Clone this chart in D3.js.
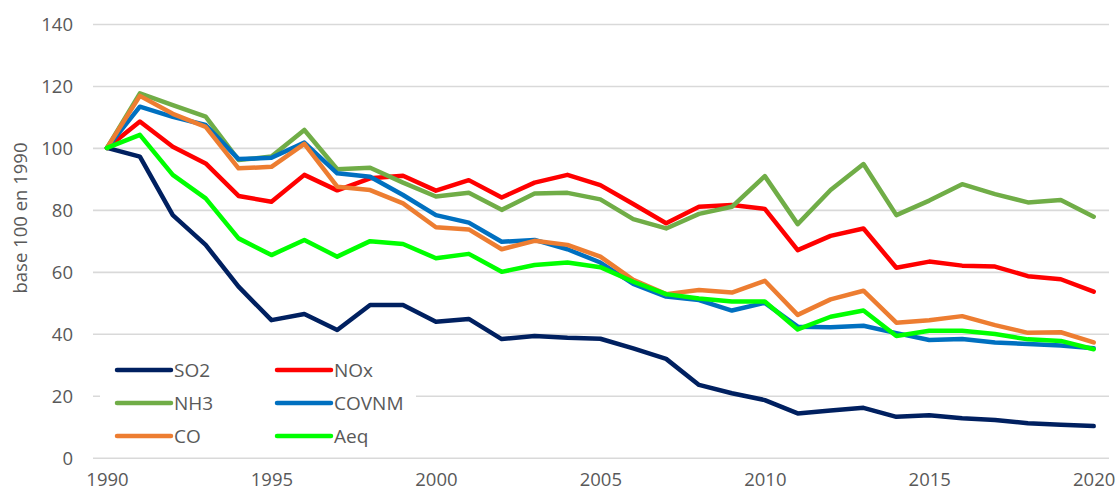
<!DOCTYPE html>
<html>
<head>
<meta charset="utf-8">
<script src="https://cdn.jsdelivr.net/npm/d3@7"></script>
<style>
  html, body { margin: 0; padding: 0; background: #fff; }
  svg { display: block; font-family: "Open Sans", "Noto Sans", sans-serif; }
</style>
</head>
<body>
<svg id="chart" width="1116" height="493"></svg>
<script>
// Emissions indexed to 1990 = 100
const years = d3.range(1990, 2021);
const so2   = [100, 97.2, 78.3, 68.7, 55.2, 44.4, 46.4, 41.2, 49.3, 49.3, 43.9, 44.8, 38.3, 39.3, 38.7, 38.4, 35.3, 31.9, 23.5, 20.8, 18.6, 14.3, 15.2, 16.1, 13.2, 13.7, 12.7, 12.2, 11.1, 10.6, 10.2];
const nox   = [100, 108.5, 100.4, 95, 84.5, 82.6, 91.3, 86.3, 90.2, 91, 86.2, 89.6, 84, 88.8, 91.3, 88, 81.9, 75.7, 81, 81.6, 80.3, 67, 71.6, 74, 61.3, 63.3, 62, 61.7, 58.6, 57.6, 53.6];
const nh3   = [100, 117.6, 113.8, 110.1, 96.1, 97.2, 105.8, 93.1, 93.6, 88.8, 84.3, 85.5, 80, 85.3, 85.5, 83.4, 77, 74, 78.7, 81, 90.9, 75.4, 86.4, 94.8, 78.3, 83, 88.3, 85.1, 82.4, 83.2, 77.8];
const covnm = [100, 113.3, 110, 107.4, 96.4, 96.8, 101.7, 91.8, 90.7, 84.8, 78.3, 75.9, 69.7, 70.3, 67.3, 63, 56.1, 52, 50.9, 47.5, 50, 42.3, 42.1, 42.6, 40.2, 38, 38.3, 37.2, 36.7, 36.2, 35.3];
const co    = [100, 116.8, 111, 106.8, 93.4, 93.9, 101.3, 87.5, 86.4, 82.1, 74.4, 73.7, 67.3, 70, 68.7, 64.9, 57.4, 52.8, 54.1, 53.3, 57.1, 46.1, 51.1, 53.9, 43.6, 44.4, 45.7, 42.8, 40.3, 40.5, 37.2];
const aeq   = [100, 104.2, 91.3, 83.7, 70.8, 65.4, 70.3, 64.9, 69.9, 69, 64.4, 65.8, 60, 62.2, 63, 61.5, 56.8, 52.8, 51.4, 50.4, 50.4, 41.4, 45.5, 47.5, 39.3, 41, 41, 39.9, 38.2, 37.7, 35];

const seriesNames  = ["SO2", "NOx", "NH3", "COVNM", "CO", "Aeq"];
const seriesValues = [so2, nox, nh3, covnm, co, aeq];
const seriesColors = ["#002060", "#ff0000", "#70ad47", "#0070c0", "#ed7d31", "#00ff00"];

const yTicks = [0, 20, 40, 60, 80, 100, 120, 140];
const xTicks = [1990, 1995, 2000, 2005, 2010, 2015, 2020];
const yTitle = "base 100 en 1990";

const svg = d3.select("#chart");
const textColor = "#595959";
const gridColor = "#d9d9d9";

const x = d3.scaleLinear().domain([1990, 2020]).range([107, 1093.7]);
const y = d3.scaleLinear().domain([0, 140]).range([457.7, 24]);
const gridLeft = 93, gridRight = 1109;

// horizontal gridlines + value labels
const yAxis = d3.axisLeft(y).tickValues(yTicks).tickSize(0).tickPadding(0);
const gy = svg.append("g").attr("transform", `translate(${gridLeft},0)`).call(yAxis);
gy.select(".domain").remove();
gy.selectAll(".tick line")
  .attr("x1", 0).attr("x2", gridRight - gridLeft)
  .attr("stroke", gridColor).attr("stroke-width", 1.6);
gy.selectAll(".tick text")
  .attr("x", -20).attr("dy", "0.36em")
  .attr("fill", textColor).attr("font-size", 18.5)
  .attr("font-family", "Open Sans, sans-serif");

// year labels
const xAxis = d3.axisBottom(x).tickValues(xTicks).tickFormat(d3.format("d")).tickSize(0).tickPadding(0);
const gx = svg.append("g").attr("transform", `translate(0,${y(0)})`).call(xAxis);
gx.select(".domain").remove();
gx.selectAll(".tick text")
  .attr("y", 28).attr("dy", 0)
  .attr("fill", textColor).attr("font-size", 18.5)
  .attr("font-family", "Open Sans, sans-serif");

// axis title
svg.append("text")
  .attr("transform", "translate(27,218) rotate(-90)")
  .attr("text-anchor", "middle")
  .attr("fill", textColor)
  .attr("font-size", 18.5)
  .text(yTitle);

// legend (white box masks the gridline behind it)
const legend = svg.append("g");
legend.append("rect")
  .attr("x", 100).attr("y", 350).attr("width", 316).attr("height", 100)
  .attr("fill", "#fff");

// series lines
const line = d3.line()
  .x((d, i) => x(years[i]))
  .y(d => y(d));

svg.append("g").selectAll("path")
  .data(seriesValues)
  .join("path")
  .attr("d", d => line(d))
  .attr("fill", "none")
  .attr("stroke", (d, i) => seriesColors[i])
  .attr("stroke-width", 4.5)
  .attr("stroke-linejoin", "round")
  .attr("stroke-linecap", "round");

const legendItems = legend.selectAll("g.item")
  .data(seriesNames)
  .join("g")
  .attr("class", "item")
  .attr("transform", (d, i) => `translate(${117 + (i % 2) * 160},${370 + Math.floor(i / 2) * 33})`);
legendItems.append("line")
  .attr("x1", 0).attr("x2", 54)
  .attr("stroke", (d, i) => seriesColors[i])
  .attr("stroke-width", 4.5)
  .attr("stroke-linecap", "round");
legendItems.append("text")
  .attr("x", 57).attr("dy", "0.36em")
  .attr("fill", textColor)
  .attr("font-size", 19)
  .text(d => d);
</script>
</body>
</html>
